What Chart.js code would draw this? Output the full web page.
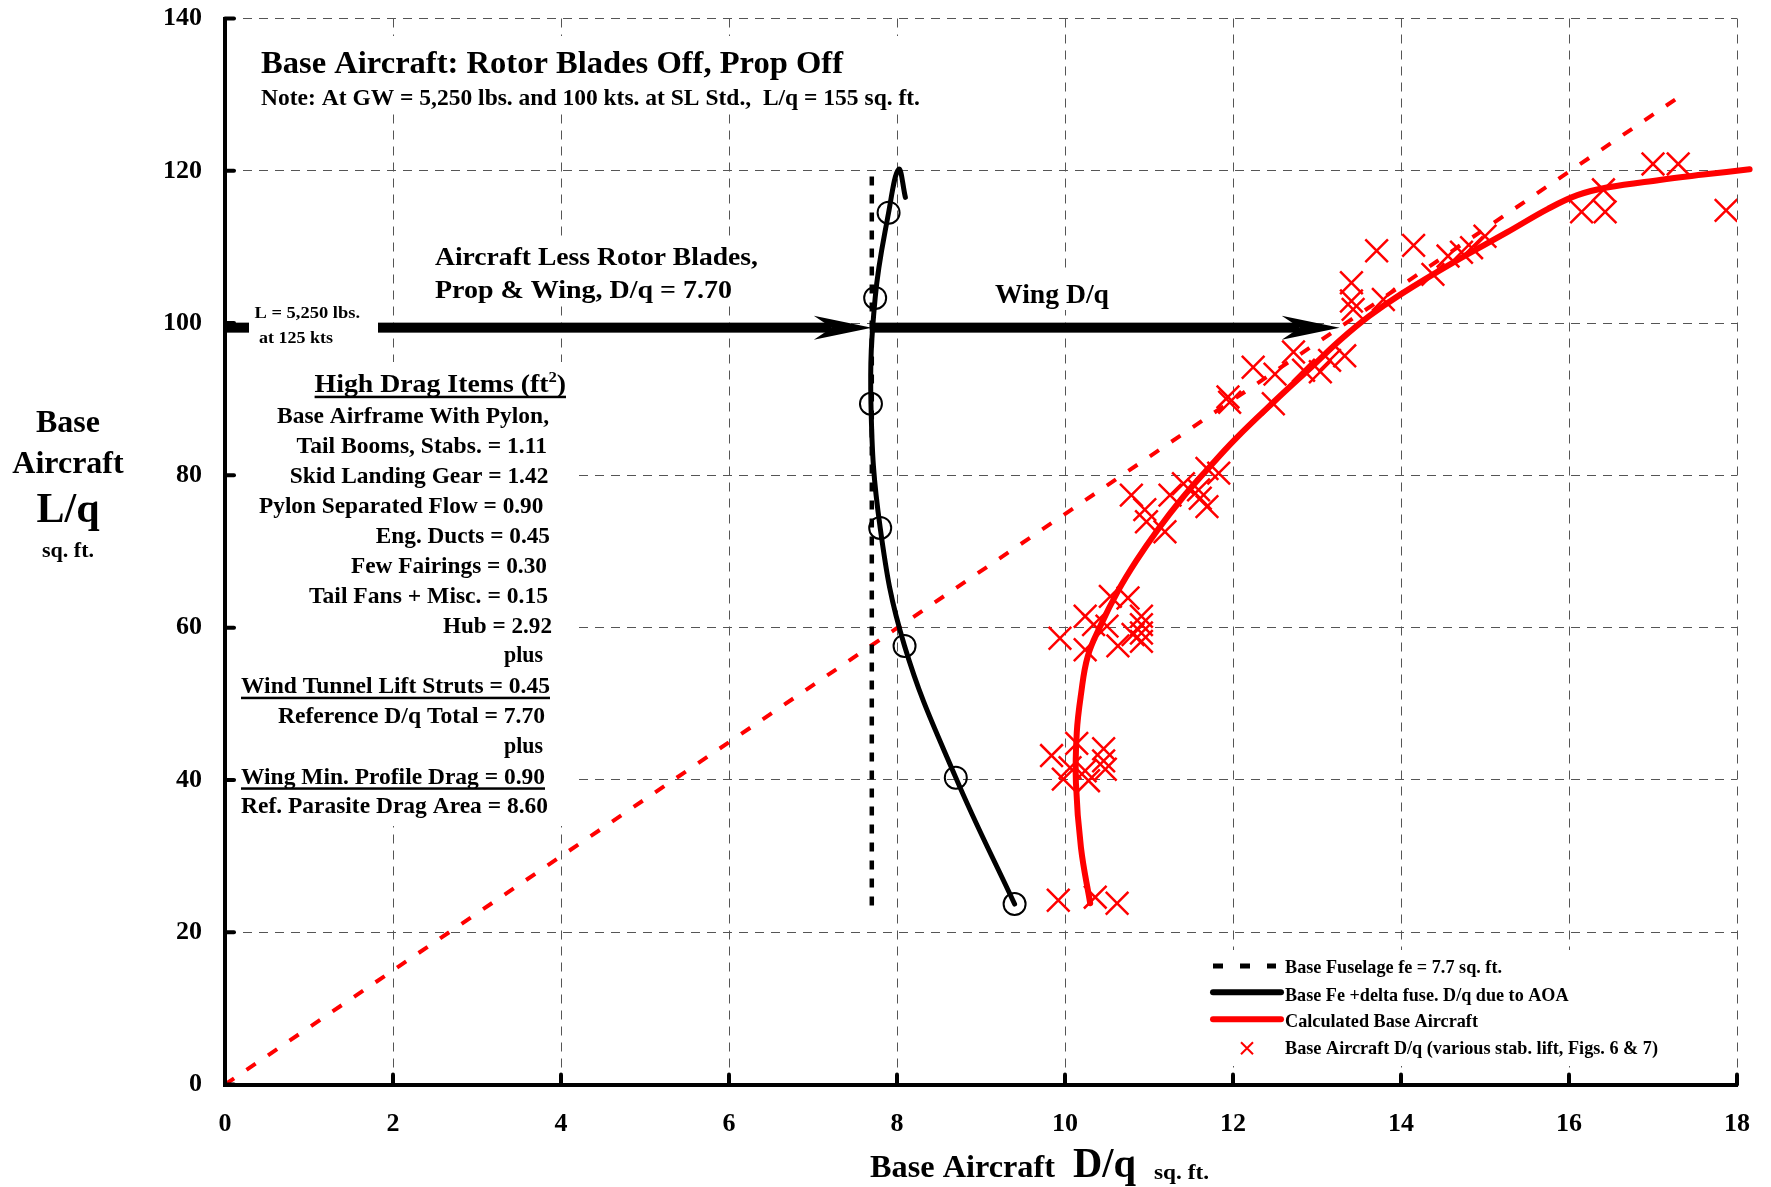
<!DOCTYPE html>
<html>
<head>
<meta charset="utf-8">
<script src="https://cdn.jsdelivr.net/npm/chart.js@4.4.1/dist/chart.umd.min.js"></script>
<style>
  html, body { margin: 0; padding: 0; background: #fff; }
  #wrap { width: 1771px; height: 1187px; }
</style>
</head>
<body>
<div id="wrap"><canvas id="dragChart" width="1771" height="1187"></canvas></div>
<script>
// 축 눈금
const xTicks = [0, 2, 4, 6, 8, 10, 12, 14, 16, 18];
const yTicks = [0, 20, 40, 60, 80, 100, 120, 140];

// Base Fuselage fe = 7.7 (점선)
const fuselageX = [7.7, 7.7];
const fuselageY = [23.5, 120];

// Base Fe + delta fuse. D/q due to AOA (검은 곡선)
const aoaCurveX = [9.40, 8.70, 8.09, 7.80, 7.69, 7.74, 7.90, 8.02, 8.10];
const aoaCurveY = [23.7, 40.3, 57.6, 73.1, 89.4, 103.3, 114.5, 120.2, 116.5];
const aoaCircleX = [9.40, 8.70, 8.09, 7.80, 7.69, 7.74, 7.90];
const aoaCircleY = [23.7, 40.3, 57.6, 73.1, 89.4, 103.3, 114.5];

// Calculated Base Aircraft (빨간 곡선)
const calcX = [10.30, 10.19, 10.13, 10.14, 10.19, 10.27, 10.42, 10.63, 10.85, 11.10, 11.38, 11.68, 12.03, 12.50, 12.96, 13.28, 13.62, 14.00, 14.66, 15.26, 15.75, 16.10, 16.45, 17.08, 17.60, 18.15];
const calcY = [23.8, 31.1, 39.6, 46.2, 51.2, 56.2, 60.2, 64.8, 68.8, 72.8, 76.8, 80.6, 84.8, 89.8, 94.5, 97.8, 100.9, 103.8, 108.2, 111.9, 115.0, 116.8, 117.8, 118.8, 119.5, 120.2];

// 기준 직선 (빨간 파선)
const refLineX = [0, 17.35];
const refLineY = [0, 130];

// Base Aircraft D/q 시험값 (x 표시)
const testX = [9.92, 10.36, 10.62,
  9.84, 10.14, 10.46, 9.98, 10.24, 10.46, 10.48, 10.28, 10.06,
  9.94, 10.24, 10.24, 10.54, 10.75, 10.50, 10.63, 10.91, 10.91, 10.91, 10.91, 10.34, 10.81,
  10.79, 10.95, 10.97, 11.19, 11.25, 11.41, 11.59, 11.69, 11.61, 11.69, 11.83,
  11.94, 11.96, 12.24, 12.48, 12.50, 12.72, 12.84, 13.04, 13.15, 13.33,
  13.43, 13.41, 13.41, 13.79, 13.71, 14.15, 14.38, 14.56, 14.72, 14.84, 15.00,
  16.15, 16.43, 16.41, 17.00, 17.30, 17.87];
const testY = [24.2, 24.6, 23.8,
  43.2, 44.8, 44.1, 40.1, 41.2, 42.5, 41.4, 39.9, 41.6,
  58.6, 61.5, 57.1, 64.1, 63.9, 60.2, 57.6, 61.5, 60.4, 59.3, 58.2, 60.4, 59.1,
  77.4, 75.5, 73.9, 72.6, 77.4, 78.9, 78.1, 80.9, 77.0, 75.9, 80.3,
  90.3, 89.6, 94.2, 89.4, 93.3, 96.2, 93.8, 93.6, 95.1, 95.7,
  101.8, 105.3, 102.9, 103.1, 109.5, 110.2, 106.4, 108.8, 109.3, 109.9, 111.4,
  114.6, 114.6, 117.5, 120.9, 120.9, 114.8];

// 화살표 (L/q 기준선, Wing D/q)
const liftArrowY = 99.4;
const fuselageDq = 7.7;
const wingArrowEnd = 13.27;

const legendLabels = [
    'Base Fuselage fe = 7.7 sq. ft.',
    'Base Fe +delta fuse. D/q due to AOA',
    'Calculated Base Aircraft',
    'Base Aircraft D/q (various stab. lift, Figs. 6 & 7)'
];

const dragItems = [
    { t: 'Base Airframe With Pylon,', x: 277, b: 422.7, w: 272 },
    { t: 'Tail Booms, Stabs. = 1.11', x: 296.6, b: 452.7, w: 250.4 },
    { t: 'Skid Landing Gear = 1.42', x: 289.7, b: 482.7, w: 258.7 },
    { t: 'Pylon Separated Flow = 0.90', x: 259, b: 512.7, w: 284.4 },
    { t: 'Eng. Ducts = 0.45', x: 375.8, b: 542.7, w: 174.2 },
    { t: 'Few Fairings = 0.30', x: 351, b: 572.7, w: 196 },
    { t: 'Tail Fans + Misc. = 0.15', x: 309, b: 602.7, w: 239 },
    { t: 'Hub = 2.92', x: 443, b: 632.7, w: 109 },
    { t: 'plus', x: 504, b: 661.7, w: 39 },
    { t: 'Wind Tunnel Lift Struts = 0.45', x: 241, b: 693.3, w: 309, ul: 697.7 },
    { t: 'Reference D/q Total = 7.70', x: 278, b: 723.3, w: 267 },
    { t: 'plus', x: 504, b: 753.3, w: 39 },
    { t: 'Wing Min. Profile Drag = 0.90', x: 241, b: 784, w: 304, ul: 788.3 },
    { t: 'Ref. Parasite Drag Area = 8.60', x: 241, b: 813.3, w: 307 }
];

const FONT = '"Liberation Serif", "Times New Roman", serif';

const pts = (xs, ys) => xs.map((x, i) => ({ x: x, y: ys[i] }));

// 폭을 맞춘 텍스트
function fitText(ctx, str, x, y, size, width, align) {
    ctx.font = 'bold ' + size + 'px ' + FONT;
    const nat = ctx.measureText(str).width;
    ctx.save();
    ctx.translate(x, y);
    if (width) ctx.scale(width / nat, 1);
    ctx.textAlign = align || 'left';
    ctx.textBaseline = 'alphabetic';
    ctx.fillStyle = '#000';
    ctx.fillText(str, 0, 0);
    ctx.restore();
}

function arrowHead(ctx, tipX, y) {
    ctx.beginPath();
    ctx.moveTo(tipX, y);
    ctx.lineTo(tipX - 58, y - 12);
    ctx.lineTo(tipX - 40, y);
    ctx.lineTo(tipX - 58, y + 12);
    ctx.closePath();
    ctx.fill();
}

const annotations = {
    id: 'annotations',
    beforeDatasetsDraw(chart) {
        const ctx = chart.ctx;
        const xs = chart.scales.x, ys = chart.scales.y;
        ctx.save();
        // 텍스트 뒤 흰 배경 (격자 가림)
        ctx.fillStyle = '#fff';
        [[255, 36, 930, 113], [428, 238, 765, 306], [988, 272, 1116, 310],
         [236, 362, 572, 826], [1205, 950, 1725, 1066], [249, 298, 378, 350]]
            .forEach(r => ctx.fillRect(r[0], r[1], r[2] - r[0], r[3] - r[1]));

        // 화살표
        ctx.fillStyle = '#000';
        const ay = ys.getPixelForValue(liftArrowY);
        const x0 = xs.getPixelForValue(0);
        const xf = xs.getPixelForValue(fuselageDq);
        const xw = xs.getPixelForValue(wingArrowEnd);
        ctx.fillRect(x0, ay - 5, 249 - x0, 10);
        ctx.fillRect(378, ay - 5, xf - 40 - 378, 10);
        arrowHead(ctx, xf, ay);
        ctx.fillRect(xf - 2, ay - 5, xw - 40 - xf + 2, 10);
        arrowHead(ctx, xw, ay);

        // 제목
        fitText(ctx, 'Base Aircraft: Rotor Blades Off, Prop Off', 261, 73, 32, 582);
        fitText(ctx, 'Note: At GW = 5,250 lbs. and 100 kts. at SL Std.,  L/q = 155 sq. ft.', 261, 105, 23, 659);
        fitText(ctx, 'Aircraft Less Rotor Blades,', 435, 265, 26, 323);
        fitText(ctx, 'Prop & Wing, D/q = 7.70', 435, 298, 26, 297);
        fitText(ctx, 'Wing D/q', 995, 303, 27, 114);
        fitText(ctx, 'L = 5,250 lbs.', 254.5, 318, 17, 105.5);
        fitText(ctx, 'at 125 kts', 259, 343, 17, 74);

        // High Drag Items 표
        ctx.font = 'bold 25px ' + FONT;
        const h1 = 'High Drag Items (ft';
        const w1 = ctx.measureText(h1).width;
        const w3 = ctx.measureText(')').width;
        ctx.font = 'bold 15px ' + FONT;
        const w2 = ctx.measureText('2').width;
        const sx = (566 - 314.6) / (w1 + w2 + w3);
        ctx.save();
        ctx.translate(314.6, 391.7);
        ctx.scale(sx, 1);
        ctx.fillStyle = '#000';
        ctx.font = 'bold 25px ' + FONT;
        ctx.fillText(h1, 0, 0);
        ctx.fillText(')', w1 + w2, 0);
        ctx.font = 'bold 15px ' + FONT;
        ctx.fillText('2', w1, -10);
        ctx.restore();
        ctx.fillRect(314.6, 395.7, 566 - 314.6, 2.5);

        dragItems.forEach(it => {
            fitText(ctx, it.t, it.x, it.b, 23, it.w);
            if (it.ul) ctx.fillRect(it.x, it.ul - 1, it.w, 2.5);
        });

        // 범례
        const lx1 = 1213, lx2 = 1276, tx = 1285;
        const rows = [966, 992.3, 1019.3, 1048.3];
        const bases = [973.3, 1000.7, 1027.3, 1054];
        const widths = [217, 283.6, 193, 373];
        ctx.lineCap = 'butt';
        ctx.strokeStyle = '#000';
        ctx.lineWidth = 5;
        ctx.setLineDash([10, 17]);
        ctx.beginPath(); ctx.moveTo(lx1, rows[0]); ctx.lineTo(lx2, rows[0]); ctx.stroke();
        ctx.setLineDash([]);
        ctx.lineCap = 'round';
        ctx.lineWidth = 6;
        ctx.beginPath(); ctx.moveTo(lx1, rows[1]); ctx.lineTo(lx2 + 5, rows[1]); ctx.stroke();
        ctx.strokeStyle = '#ff0000';
        ctx.beginPath(); ctx.moveTo(lx1, rows[2]); ctx.lineTo(lx2 + 5, rows[2]); ctx.stroke();
        ctx.lineCap = 'butt';
        ctx.lineWidth = 2;
        const cx = 1247, cy = rows[3];
        ctx.beginPath();
        ctx.moveTo(cx - 6, cy - 6); ctx.lineTo(cx + 6, cy + 6);
        ctx.moveTo(cx - 6, cy + 6); ctx.lineTo(cx + 6, cy - 6);
        ctx.stroke();
        legendLabels.forEach((t, i) => fitText(ctx, t, tx, bases[i], 19, widths[i]));
        ctx.restore();
    },
    afterDraw(chart) {
        const ctx = chart.ctx;
        const xs = chart.scales.x, ys = chart.scales.y;
        const area = chart.chartArea;
        ctx.save();
        // 안쪽 눈금
        ctx.strokeStyle = '#000';
        ctx.lineWidth = 4;
        ctx.lineCap = 'round';
        yTicks.forEach(v => {
            const y = ys.getPixelForValue(v);
            ctx.beginPath(); ctx.moveTo(area.left, y); ctx.lineTo(area.left + 9, y); ctx.stroke();
        });
        xTicks.forEach(v => {
            const x = xs.getPixelForValue(v);
            ctx.beginPath(); ctx.moveTo(x, area.bottom); ctx.lineTo(x, area.bottom - 10); ctx.stroke();
        });

        // 축 제목
        fitText(ctx, 'Base', 68, 431.7, 32, null, 'center');
        fitText(ctx, 'Aircraft', 68, 472.7, 32, null, 'center');
        fitText(ctx, 'L/q', 68, 521.7, 42, null, 'center');
        fitText(ctx, 'sq. ft.', 68, 556.7, 22, null, 'center');

        fitText(ctx, 'Base Aircraft', 870, 1177, 32, 185);
        fitText(ctx, 'D/q', 1073, 1177, 42, 63);
        fitText(ctx, 'sq. ft.', 1154, 1179, 22, 55);
        ctx.restore();
    }
};

const tickFont = { family: FONT, size: 26, weight: 'bold' };

new Chart(document.getElementById('dragChart').getContext('2d'), {
    type: 'scatter',
    data: {
        datasets: [
            {
                label: 'AOA points',
                data: pts(aoaCircleX, aoaCircleY),
                showLine: false,
                pointStyle: 'circle',
                pointRadius: 11,
                borderWidth: 2,
                borderColor: '#000',
                backgroundColor: 'rgba(0,0,0,0)'
            },
            {
                label: legendLabels[1],
                data: pts(aoaCurveX, aoaCurveY),
                showLine: true,
                pointRadius: 0,
                borderColor: '#000',
                borderWidth: 5,
                tension: 0.4,
                borderCapStyle: 'round'
            },
            {
                label: legendLabels[0],
                data: pts(fuselageX, fuselageY),
                showLine: true,
                pointRadius: 0,
                borderColor: '#000',
                borderWidth: 4.5,
                borderDash: [9, 9]
            },
            {
                label: legendLabels[2],
                data: pts(calcX, calcY),
                showLine: true,
                pointRadius: 0,
                borderColor: '#ff0000',
                borderWidth: 6,
                tension: 0.4,
                borderCapStyle: 'round',
                clip: false
            },
            {
                label: legendLabels[3],
                data: pts(testX, testY),
                showLine: false,
                pointStyle: 'crossRot',
                pointRadius: 16,
                borderWidth: 2.5,
                borderColor: '#ff0000',
                backgroundColor: '#ff0000'
            },
            {
                label: 'Reference line',
                data: pts(refLineX, refLineY),
                showLine: true,
                pointRadius: 0,
                borderColor: '#ff0000',
                borderWidth: 4,
                borderDash: [11, 15]
            }
        ]
    },
    options: {
        responsive: false,
        animation: false,
        devicePixelRatio: 1,
        layout: { padding: { top: 15.5, right: 34, left: 0, bottom: 0 } },
        plugins: {
            legend: { display: false },
            tooltip: { enabled: false }
        },
        scales: {
            x: {
                type: 'linear',
                min: 0,
                max: 18,
                afterBuildTicks: (s) => { s.ticks = xTicks.map(v => ({ value: v })); },
                afterFit: (s) => { s.height = 102.5; s.paddingLeft = 0; s.paddingRight = 0; },
                ticks: { font: tickFont, color: '#000', padding: 24, maxRotation: 0, autoSkip: false },
                grid: { color: '#555', lineWidth: 1, drawTicks: false },
                border: { color: '#000', width: 4, dash: [9, 7] }
            },
            y: {
                type: 'linear',
                min: 0,
                max: 140,
                afterBuildTicks: (s) => { s.ticks = yTicks.map(v => ({ value: v })); },
                afterFit: (s) => { s.width = 225; s.paddingTop = 0; s.paddingBottom = 0; },
                ticks: { font: tickFont, color: '#000', padding: 23, autoSkip: false },
                grid: { color: '#555', lineWidth: 1, drawTicks: false },
                border: { color: '#000', width: 4, dash: [9, 7] }
            }
        }
    },
    plugins: [annotations]
});
</script>
</body>
</html>
